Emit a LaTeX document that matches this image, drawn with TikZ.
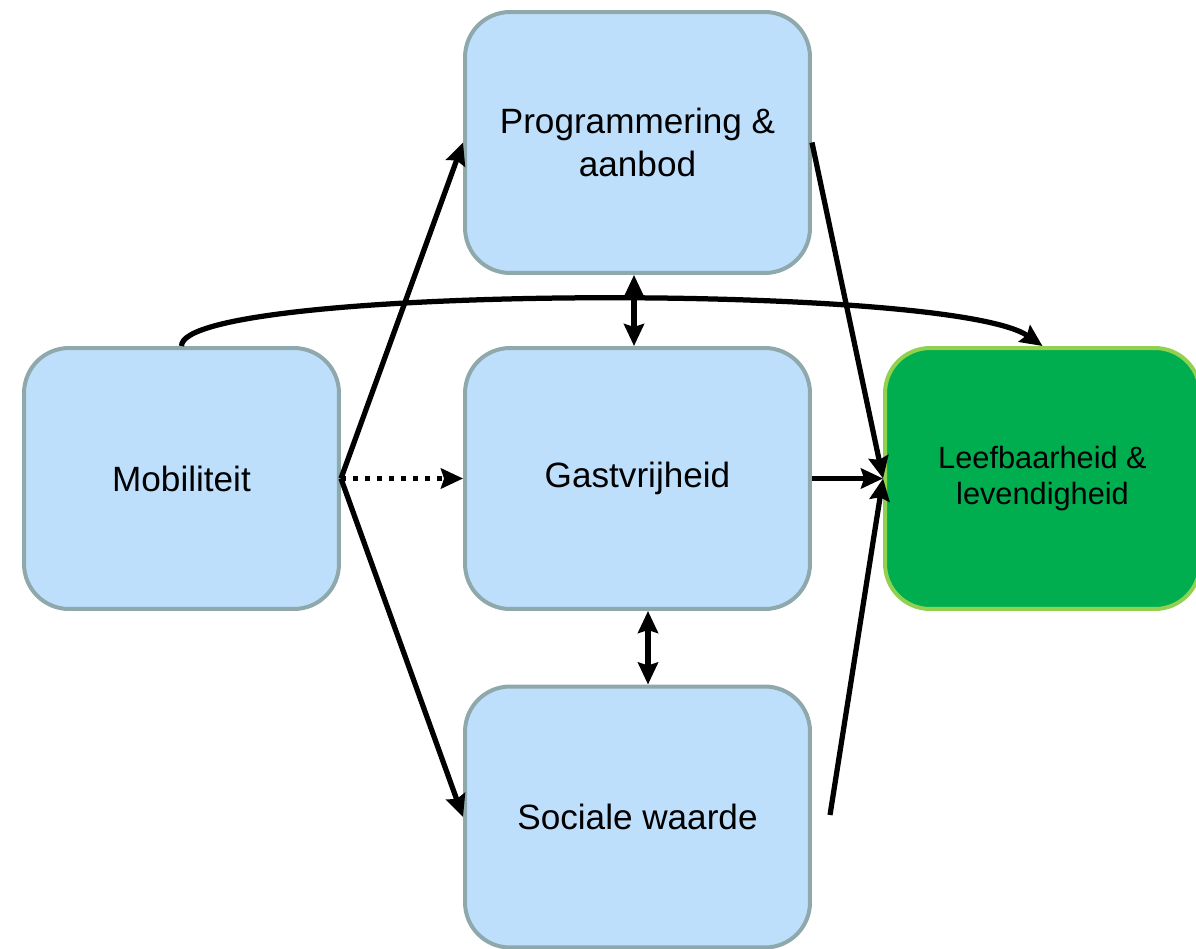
\documentclass[tikz,border=0pt]{standalone}
\usepackage{fontspec}
\setmainfont{Liberation Sans}
\usetikzlibrary{arrows.meta,calc}
\definecolor{boxfill}{HTML}{BDDFFB}
\definecolor{boxline}{HTML}{8EA8AB}
\definecolor{goalfill}{HTML}{00AE4F}
\definecolor{goalline}{HTML}{92D050}
\tikzset{
  px/.style={x=0.02cm,y=-0.02cm},
  box/.style={draw=boxline, fill=boxfill, line width=0.08cm, rounded corners=0.9cm,
    minimum width=6.9cm, minimum height=5.22cm, align=center, font=\fontsize{20}{24}\selectfont},
  goal/.style={box, draw=goalline, fill=goalfill, minimum width=6.3cm, font=\fontsize{17.5}{20}\selectfont},
  link/.style={line width=0.105cm, -{Stealth[length=0.44cm,width=0.4cm,inset=0.06cm]}},
  both/.style={line width=0.105cm, {Stealth[length=0.44cm,width=0.4cm,inset=0.06cm]}-{Stealth[length=0.44cm,width=0.4cm,inset=0.06cm]}},
  dotlink/.style={link, dash pattern=on 0.1cm off 0.14cm}
}
\begin{document}
\begin{tikzpicture}[px]
\useasboundingbox (0,0) rectangle (1196,949);
\node[box, minimum width=6.3cm] (mob) at (181.5,478.5) {Mobiliteit};
\node[box] (prog) at (637.5,142.5) {Programmering \&\\aanbod};
\node[box] (gast) at (637.5,478.5) {Gastvrijheid};
\node[box] (soc) at (637.5,817) {Sociale waarde};
\node[goal] (leef) at (1042.5,478.5) {Leefbaarheid \&\\levendigheid};
\coordinate (socout) at (830,815);
% influences from mobility
\draw[link] (mob.east) -- (prog.west);
\draw[dotlink] (mob.east) -- (gast.west);
\draw[link] (mob.east) -- (soc.west);
% influences on liveability
\draw[link] (prog.east) -- (leef.west);
\draw[link] (gast.east) -- (leef.west);
\draw[link] (socout) -- (leef.west);
% mutual relations
\draw[both] ([xshift=-0.07cm]prog.south) -- ([xshift=-0.07cm]gast.north);
\draw[both] ([xshift=0.21cm]gast.south) -- ([xshift=0.21cm]soc.north);
% direct effect of mobility
\draw[link] (mob.north) .. controls (181,285) and (950,282) .. (leef.north);
\end{tikzpicture}
\end{document}
